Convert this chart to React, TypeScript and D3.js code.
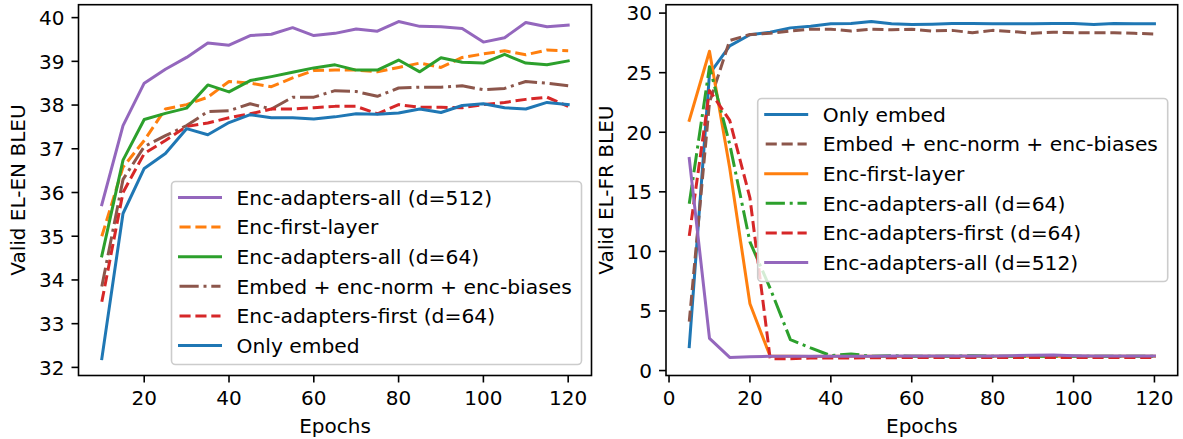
import React from 'react';
import * as d3 from 'd3';

// ---------- DATA ----------
const epochsEN = [10, 15, 20, 25, 30, 35, 40, 45, 50, 55, 60, 65, 70, 75, 80, 85, 90, 95, 100, 105, 110, 115, 120];
const enAdaptersAll512 = [35.72, 37.53, 38.5, 38.82, 39.09, 39.42, 39.37, 39.59, 39.62, 39.77, 39.59, 39.64, 39.74, 39.69, 39.91, 39.8, 39.79, 39.75, 39.44, 39.54, 39.89, 39.79, 39.83];
const enFirstLayer = [35.0, 36.58, 37.19, 37.91, 38.01, 38.18, 38.54, 38.5, 38.42, 38.62, 38.79, 38.8, 38.8, 38.76, 38.86, 38.96, 38.86, 39.09, 39.17, 39.24, 39.15, 39.26, 39.24];
const enAdaptersAll64 = [34.55, 36.74, 37.67, 37.81, 37.93, 38.46, 38.3, 38.56, 38.65, 38.75, 38.85, 38.92, 38.8, 38.8, 39.03, 38.76, 39.08, 38.98, 38.96, 39.16, 38.96, 38.92, 39.01];
const enEmbedNormBias = [33.85, 36.3, 37.05, 37.3, 37.53, 37.85, 37.87, 38.03, 37.91, 38.18, 38.18, 38.33, 38.31, 38.2, 38.39, 38.41, 38.41, 38.44, 38.35, 38.38, 38.54, 38.5, 38.44];
const enAdaptersFirst64 = [33.5, 36.0, 36.89, 37.19, 37.51, 37.59, 37.71, 37.8, 37.91, 37.91, 37.94, 37.97, 37.97, 37.8, 38.01, 37.95, 37.95, 37.94, 38.01, 38.06, 38.13, 38.18, 37.97];
const enOnlyEmbed = [32.2, 35.52, 36.55, 36.89, 37.46, 37.32, 37.6, 37.78, 37.71, 37.71, 37.68, 37.73, 37.8, 37.79, 37.82, 37.91, 37.83, 37.99, 38.03, 37.94, 37.91, 38.06, 38.01];

const epochsFR = [5, 10, 15, 20, 25, 30, 35, 40, 45, 50, 55, 60, 65, 70, 75, 80, 85, 90, 95, 100, 105, 110, 115, 120];
const frOnlyEmbed = [2.0, 24.9, 27.25, 28.18, 28.4, 28.76, 28.9, 29.1, 29.12, 29.29, 29.1, 29.04, 29.07, 29.12, 29.12, 29.1, 29.1, 29.1, 29.13, 29.13, 29.05, 29.13, 29.1, 29.1];
const frEmbedNormBias = [4.1, 22.5, 27.7, 28.2, 28.3, 28.5, 28.65, 28.65, 28.5, 28.65, 28.6, 28.65, 28.5, 28.55, 28.35, 28.55, 28.45, 28.3, 28.4, 28.35, 28.35, 28.35, 28.3, 28.25];
const frFirstLayer = [21.0, 26.8, 17.0, 5.6, 1.2, 1.2, 1.18, 1.2, 1.2, 1.2, 1.18, 1.2, 1.2, 1.2, 1.2, 1.2, 1.2, 1.2, 1.2, 1.2, 1.2, 1.2, 1.2, 1.2];
const frAdaptersAll64 = [14.0, 25.5, 19.0, 10.8, 6.9, 2.6, 1.9, 1.25, 1.4, 1.2, 1.25, 1.2, 1.2, 1.2, 1.25, 1.2, 1.2, 1.2, 1.2, 1.2, 1.2, 1.2, 1.2, 1.2];
const frAdaptersFirst64 = [11.3, 23.5, 21.0, 14.5, 1.0, 1.0, 1.05, 1.05, 1.05, 1.08, 1.08, 1.1, 1.1, 1.1, 1.1, 1.1, 1.1, 1.1, 1.1, 1.1, 1.1, 1.1, 1.1, 1.1];
const frAdaptersAll512 = [17.8, 2.7, 1.1, 1.15, 1.2, 1.2, 1.2, 1.2, 1.2, 1.2, 1.22, 1.22, 1.22, 1.22, 1.22, 1.22, 1.25, 1.28, 1.3, 1.25, 1.22, 1.22, 1.22, 1.22];

const ticksXEN = [20, 40, 60, 80, 100, 120];
const ticksYEN = [32, 33, 34, 35, 36, 37, 38, 39, 40];
const ticksXFR = [0, 20, 40, 60, 80, 100, 120];
const ticksYFR = [0, 5, 10, 15, 20, 25, 30];

// ---------- STYLE ----------
const C = {
  blue: '#1f77b4', orange: '#ff7f0e', green: '#2ca02c', red: '#d62728', purple: '#9467bd', brown: '#8c564b',
};
const DASHED = '11.1,4.8';
const DASHDOT = '19.2,4.8,3,4.8';
const FONT = 'DejaVu Sans';
const FS = 20;
const LFS = 20.25;

type Series = { label: string; values: number[]; color: string; dash?: string };

const seriesEN: Series[] = [
  { label: 'Enc-adapters-all (d=512)', values: enAdaptersAll512, color: C.purple },
  { label: 'Enc-first-layer', values: enFirstLayer, color: C.orange, dash: DASHED },
  { label: 'Enc-adapters-all (d=64)', values: enAdaptersAll64, color: C.green },
  { label: 'Embed + enc-norm + enc-biases', values: enEmbedNormBias, color: C.brown, dash: DASHDOT },
  { label: 'Enc-adapters-first (d=64)', values: enAdaptersFirst64, color: C.red, dash: DASHED },
  { label: 'Only embed', values: enOnlyEmbed, color: C.blue },
];
const seriesFR: Series[] = [
  { label: 'Only embed', values: frOnlyEmbed, color: C.blue },
  { label: 'Embed + enc-norm + enc-biases', values: frEmbedNormBias, color: C.brown, dash: DASHED },
  { label: 'Enc-first-layer', values: frFirstLayer, color: C.orange },
  { label: 'Enc-adapters-all (d=64)', values: frAdaptersAll64, color: C.green, dash: DASHDOT },
  { label: 'Enc-adapters-first (d=64)', values: frAdaptersFirst64, color: C.red, dash: DASHED },
  { label: 'Enc-adapters-all (d=512)', values: frAdaptersAll512, color: C.purple },
];

function padded(ext: [number, number]): [number, number] {
  const m = (ext[1] - ext[0]) * 0.05;
  return [ext[0] - m, ext[1] + m];
}

type PanelProps = {
  x0: number; x1: number; y0: number; y1: number;
  xs: number[]; series: Series[];
  ticksX: number[]; ticksY: number[];
  yLabel: string; yLabelX: number;
  legendTop: number;
};

function Panel(p: PanelProps) {
  const xExt = d3.extent(p.xs) as [number, number];
  const allY = p.series.flatMap((s) => s.values);
  const yExt = d3.extent(allY) as [number, number];
  const x = d3.scaleLinear().domain(padded(xExt)).range([p.x0, p.x1]);
  const y = d3.scaleLinear().domain(padded(yExt)).range([p.y1, p.y0]);
  const line = d3.line<number>().x((_, i) => x(p.xs[i])).y((v) => y(v));

  const legendRight = p.x1 - 10;
  const legendW = 410;
  const legendLeft = legendRight - legendW;
  const pitch = 29.6;
  const legendH = 183;

  return (
    <g>
      {p.series.map((s) => (
        <path key={s.label} d={line(s.values) || ''} fill="none" stroke={s.color} strokeWidth={3}
          strokeDasharray={s.dash} strokeLinejoin="round" strokeLinecap={s.dash ? 'butt' : 'square'} />
      ))}
      {/* frame */}
      <rect x={p.x0} y={p.y0} width={p.x1 - p.x0} height={p.y1 - p.y0} fill="none" stroke="#000" strokeWidth={1.6} />
      {/* x ticks */}
      {p.ticksX.map((t) => (
        <g key={'x' + t}>
          <line x1={x(t)} x2={x(t)} y1={p.y1} y2={p.y1 + 7} stroke="#000" strokeWidth={1.6} />
          <text x={x(t)} y={p.y1 + 29.5} textAnchor="middle" fontFamily={FONT} fontSize={FS}>{t}</text>
        </g>
      ))}
      {p.ticksY.map((t) => (
        <g key={'y' + t}>
          <line x1={p.x0 - 7} x2={p.x0} y1={y(t)} y2={y(t)} stroke="#000" strokeWidth={1.6} />
          <text x={p.x0 - 14} y={y(t) + 7.3} textAnchor="end" fontFamily={FONT} fontSize={FS}>{t}</text>
        </g>
      ))}
      <text x={(p.x0 + p.x1) / 2} y={433} textAnchor="middle" fontFamily={FONT} fontSize={FS}>Epochs</text>
      <text transform={`translate(${p.yLabelX},${(p.y0 + p.y1) / 2}) rotate(-90)`} textAnchor="middle" fontFamily={FONT} fontSize={FS}>{p.yLabel}</text>
      {/* legend */}
      <rect x={legendLeft} y={p.legendTop} width={legendW} height={legendH} rx={4} fill="#fff" fillOpacity={0.8} stroke="#cccccc" strokeWidth={1.6} />
      {p.series.map((s, i) => {
        const cy = p.legendTop + 16 + i * pitch;
        return (
          <g key={'l' + s.label}>
            <line x1={legendLeft + 8} x2={legendLeft + 49} y1={cy} y2={cy} stroke={s.color} strokeWidth={3}
              strokeDasharray={s.dash} strokeLinecap={s.dash ? 'butt' : 'square'} />
            <text x={legendLeft + 65} y={cy + 7.3} fontFamily={FONT} fontSize={LFS}>{s.label}</text>
          </g>
        );
      })}
    </g>
  );
}

export default function App() {
  return (
    <div style={{ position: 'fixed', left: 0, top: 0 }}>
      <svg width={1183} height={439} style={{ display: 'block', background: '#fff' }}>
        <Panel x0={78.5} x1={591.5} y0={4.7} y1={375.5} xs={epochsEN} series={seriesEN}
          ticksX={ticksXEN} ticksY={ticksYEN} yLabel="Valid EL-EN BLEU" yLabelX={25} legendTop={181.5} />
        <Panel x0={666} x1={1177.7} y0={4.7} y1={375.5} xs={epochsFR} series={seriesFR}
          ticksX={ticksXFR} ticksY={ticksYFR} yLabel="Valid EL-FR BLEU" yLabelX={613} legendTop={98.5} />
      </svg>
    </div>
  );
}
